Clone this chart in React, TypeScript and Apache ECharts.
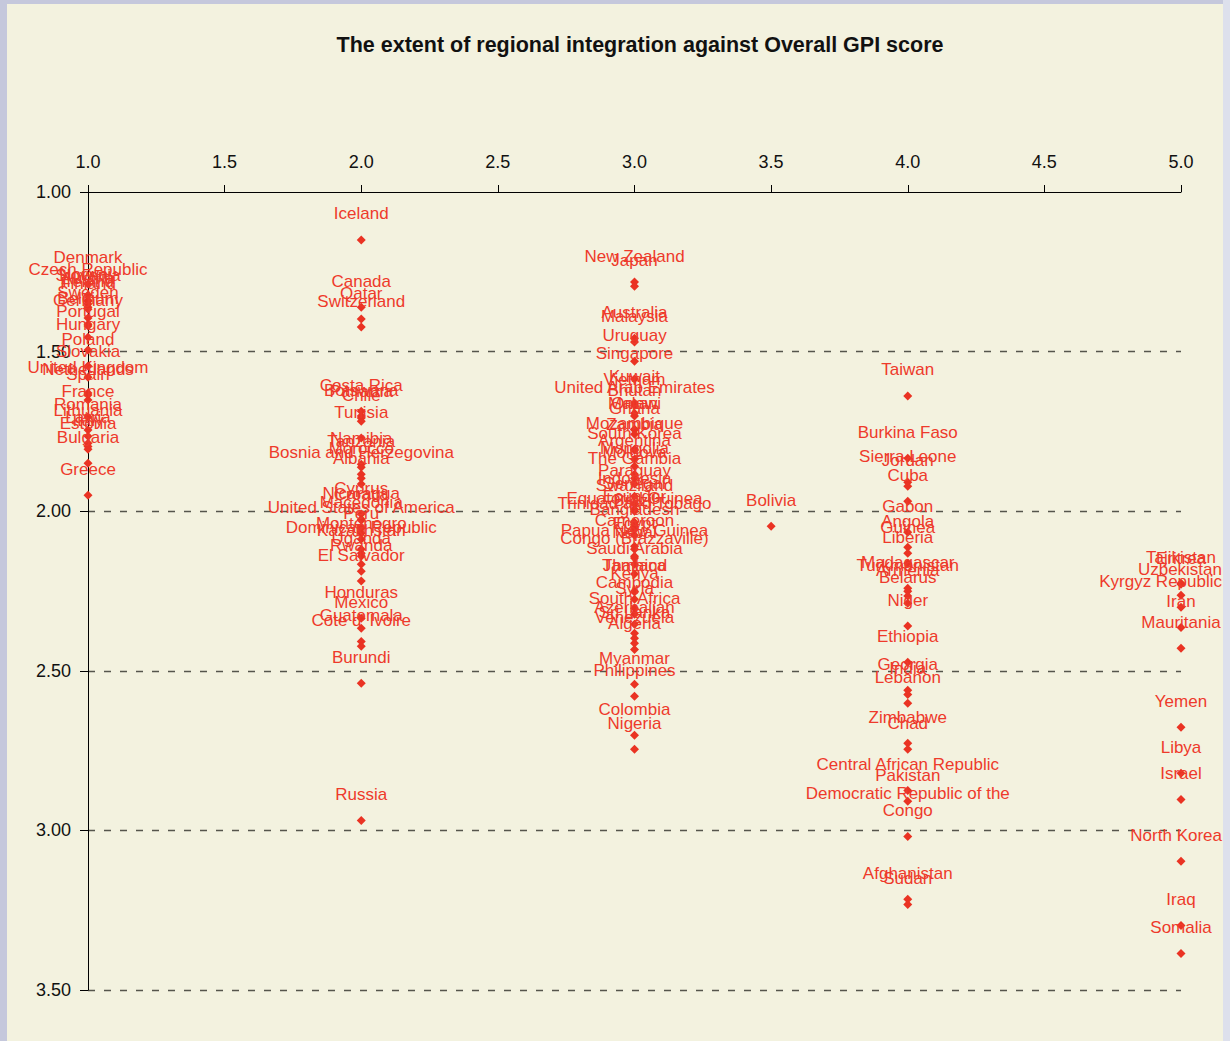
import React, { useEffect, useRef } from "react";
import * as echarts from "echarts";

const TITLE = "The extent of regional integration against Overall GPI score";

const xTicks = [1.0, 1.5, 2.0, 2.5, 3.0, 3.5, 4.0, 4.5, 5.0];
const yTicks = [1.0, 1.5, 2.0, 2.5, 3.0, 3.5];

// Integration level 1
const level1Names = [
  "Denmark", "Czech Republic", "Norway", "Slovenia", "Austria", "Ireland", "Finland",
  "Sweden", "Belgium", "Germany", "Portugal", "Hungary", "Poland", "Slovakia",
  "United Kingdom", "Netherlands", "Spain", "France", "Romania", "Lithuania",
  "Latvia", "Italy", "Estonia", "Bulgaria", "Greece",
];
const level1Scores = [
  1.288, 1.323, 1.339, 1.342, 1.351, 1.361, 1.367,
  1.395, 1.414, 1.42, 1.455, 1.495, 1.545, 1.58,
  1.63, 1.636, 1.652, 1.705, 1.746, 1.765,
  1.787, 1.797, 1.806, 1.85, 1.95,
];

// Integration level 2
const level2Names = [
  "Iceland", "Canada", "Qatar", "Switzerland", "Costa Rica", "Botswana", "Panama",
  "Chile", "Tunisia", "Namibia", "Tanzania", "Morocco", "Bosnia and Herzegovina",
  "Albania", "Cyprus", "Nicaragua", "Croatia", "Macedonia", "United States of America",
  "Peru", "Montenegro", "Dominican Republic", "Kazakhstan", "Uganda", "Rwanda",
  "El Salvador", "Honduras", "Mexico", "Guatemala", "Cote d' Ivoire", "Burundi", "Russia",
];
const level2Scores = [
  1.15, 1.361, 1.398, 1.423, 1.687, 1.702, 1.708,
  1.718, 1.771, 1.853, 1.862, 1.884, 1.897,
  1.915, 2.009, 2.025, 2.028, 2.053, 2.069,
  2.088, 2.119, 2.132, 2.141, 2.166, 2.188,
  2.219, 2.335, 2.367, 2.408, 2.423, 2.539, 2.969,
];

// Integration level 3
const level3Names = [
  "New Zealand", "Japan", "Australia", "Malaysia", "Uruguay", "Singapore", "Kuwait",
  "Vietnam", "United Arab Emirates", "Bhutan", "Malawi", "Oman", "Ghana", "Mozambique",
  "Zambia", "South Korea", "Argentina", "Mongolia", "Moldova", "The Gambia", "Paraguay",
  "Indonesia", "Senegal", "Swaziland", "Ecuador", "Equatorial Guinea", "Brazil",
  "Trinidad and Tobago", "Bangladesh", "Cameroon", "Egypt", "Papua New Guinea", "Nepal",
  "Congo (Brazzaville)", "Saudi Arabia", "Jamaica", "Thailand", "Kenya", "Cambodia",
  "Syria", "South Africa", "Azerbaijan", "Sri Lanka", "Venezuela", "Algeria",
  "Myanmar", "Philippines", "Colombia", "Nigeria",
];
const level3Scores = [
  1.282, 1.295, 1.458, 1.47, 1.53, 1.586, 1.661,
  1.668, 1.693, 1.702, 1.743, 1.745, 1.759, 1.806,
  1.809, 1.837, 1.859, 1.884, 1.897, 1.915, 1.953,
  1.978, 1.994, 2.0, 2.035, 2.041, 2.047,
  2.056, 2.075, 2.11, 2.119, 2.141, 2.147,
  2.166, 2.197, 2.251, 2.253, 2.276, 2.304,
  2.323, 2.354, 2.382, 2.398, 2.414, 2.433,
  2.542, 2.58, 2.702, 2.746,
];

// Integration level 3.5
const level35Names = ["Bolivia"];
const level35Scores = [2.047];

// Integration level 4
const level4Names = [
  "Taiwan", "Burkina Faso", "Sierra Leone", "Jordan", "Cuba", "Gabon", "Angola",
  "Guinea", "Liberia", "Madagascar", "Turkmenistan", "Armenia", "Belarus", "Niger",
  "Ethiopia", "Georgia", "India", "Lebanon", "Zimbabwe", "Chad",
  "Central African Republic", "Pakistan", "Democratic Republic of the\nCongo",
  "Afghanistan", "Sudan",
];
const level4Scores = [
  1.639, 1.834, 1.909, 1.922, 1.969, 2.066, 2.113,
  2.132, 2.163, 2.241, 2.251, 2.266, 2.288, 2.36,
  2.473, 2.561, 2.574, 2.602, 2.727, 2.746,
  2.875, 2.909, 3.019,
  3.216, 3.232,
];

// Integration level 5
const level5Names = [
  "Tajikistan", "Eritrea", "Uzbekistan", "Kyrgyz Republic", "Iran", "Mauritania",
  "Yemen", "Libya", "Israel", "North Korea", "Iraq", "Somalia",
];
const level5Scores = [
  2.226, 2.229, 2.263, 2.301, 2.364, 2.429,
  2.677, 2.821, 2.903, 3.097, 3.298, 3.386,
];

const groups: [number, string[], number[]][] = [
  [1, level1Names, level1Scores],
  [2, level2Names, level2Scores],
  [3, level3Names, level3Scores],
  [3.5, level35Names, level35Scores],
  [4, level4Names, level4Scores],
  [5, level5Names, level5Scores],
];

const FONT = "'Liberation Sans', Arial, Helvetica, sans-serif";
const RED = "#ea3323";
const LABEL_RED = "#ee3a2b";

export default function App() {
  const ref = useRef<HTMLDivElement>(null);

  useEffect(() => {
    if (!ref.current) return;
    const chart = echarts.init(ref.current, undefined, { renderer: "svg" });
    const data: any[] = [];
    groups.forEach(([lvl, names, scores]) => {
      names.forEach((n, i) => {
        data.push({ name: n, value: [lvl, scores[i]] });
      });
    });
    const rightLimit = 1215; // keep labels inside the plot frame like the original
    chart.setOption({
      animation: false,
      backgroundColor: "transparent",
      title: {
        text: TITLE,
        left: 628,
        top: 25,
        textAlign: "center",
        textStyle: {
          fontFamily: FONT,
          fontSize: 21.5,
          fontWeight: "bold",
          color: "#111",
        },
      },
      grid: { left: 81, right: 42, top: 188, bottom: 51, containLabel: false },
      xAxis: {
        type: "value",
        position: "top",
        min: 1,
        max: 5,
        interval: 0.5,
        axisLine: { show: true, onZero: false, lineStyle: { color: "#000", width: 1 } },
        axisTick: { show: true, length: 7, lineStyle: { color: "#000" } },
        splitLine: { show: false },
        axisLabel: {
          margin: 21,
          fontSize: 18,
          fontFamily: FONT,
          color: "#111",
          formatter: (v: number) => v.toFixed(1),
        },
      },
      yAxis: {
        type: "value",
        inverse: true,
        min: 1,
        max: 3.5,
        interval: 0.5,
        axisLine: { show: true, onZero: false, lineStyle: { color: "#000", width: 1 } },
        axisTick: { show: true, length: 8, lineStyle: { color: "#000" } },
        splitLine: {
          show: true,
          showMinLine: false,
          lineStyle: { color: "#55554c", width: 1.3, type: [7, 9] },
        },
        axisLabel: {
          margin: 17,
          fontSize: 18,
          fontFamily: FONT,
          color: "#111",
          formatter: (v: number) => v.toFixed(2),
        },
      },
      series: [
        {
          type: "scatter",
          symbol: "diamond",
          symbolSize: 9,
          itemStyle: { color: RED, opacity: 1 },
          data,
          label: {
            show: true,
            position: "top",
            distance: 13,
            formatter: (p: any) => p.name,
            fontFamily: FONT,
            fontSize: 17,
            color: LABEL_RED,
            align: "center",
          },
          labelLayout: (p: any) => {
            const r = p.labelRect;
            if (r && r.x + r.width > rightLimit) {
              return {
                x: rightLimit - r.width,
                y: r.y,
                align: "left",
                verticalAlign: "top",
                hideOverlap: false,
              };
            }
            return { hideOverlap: false };
          },
        },
      ],
    });
    return () => chart.dispose();
  }, []);

  return (
    <div
      style={{
        position: "fixed",
        left: 0,
        top: 0,
        width: 1230,
        height: 1041,
        background: "#c5c8dc",
        overflow: "hidden",
      }}
    >
      <div
        style={{
          position: "absolute",
          left: 1223,
          top: 0,
          width: 7,
          height: 1041,
          background: "#dde0ec",
        }}
      />
      <div
        ref={ref}
        style={{
          position: "absolute",
          left: 7,
          top: 4,
          width: 1216,
          height: 1037,
          background: "#f3f2df",
        }}
      />
    </div>
  );
}
